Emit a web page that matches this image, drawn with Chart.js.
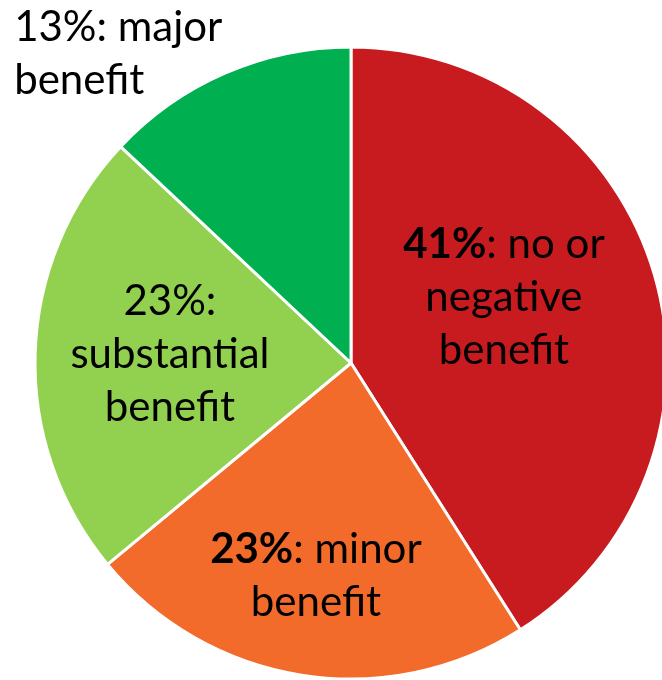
<!DOCTYPE html>
<html>
<head>
<meta charset="utf-8">
<script src="https://cdn.jsdelivr.net/npm/chart.js@4"></script>
<style>
  html, body { margin: 0; padding: 0; overflow: hidden; background: #fff; }
</style>
</head>
<body>
<canvas id="pieChart" width="702" height="726"></canvas>
<script>
const categories = ['no or negative benefit', 'minor benefit', 'substantial benefit', 'major benefit'];
const values = [41, 23, 23, 13];
const colors = ['#C81B1F', '#F26B2B', '#92D050', '#00B050'];
// label text: first line is [bold part, plain part], then plain lines
// (\u200C keeps "f" and "i" apart, as in the original)
const labelLines = [
  [['41%', ': no or'], 'negative', 'bene\u200Cfit'],
  [['23%', ': minor'], 'bene\u200Cfit'],
  [['', '23%:'], 'substantial', 'bene\u200Cfit'],
  [['', '13%: major'], 'bene\u200Cfit']
];
// where each label sits, as a fraction of the radius from the centre
const labelSpots = [
  { fx: 0.484, fy: -0.206, align: 'center' },
  { fx: -0.111, fy: 0.674, align: 'center' },
  { fx: -0.573, fy: -0.028, align: 'center' },
  { fx: -1.066, fy: -0.979, align: 'left' }
];

const FONT = 'Lato, "Open Sans", sans-serif';
const SIZE = 42;
const LINE = 53;

const pieLabels = {
  id: 'pieLabels',
  afterDatasetsDraw(chart) {
    const ctx = chart.ctx;
    const arcs = chart.getDatasetMeta(0).data;
    ctx.save();
    ctx.fillStyle = '#000';
    ctx.textBaseline = 'middle';
    arcs.forEach((arc, i) => {
      const spot = labelSpots[i];
      const x = arc.x + arc.outerRadius * spot.fx;
      const y0 = arc.y + arc.outerRadius * spot.fy;
      const lines = labelLines[i];
      const top = y0 - (lines.length - 1) * LINE / 2;
      lines.forEach((line, j) => {
        const y = top + j * LINE;
        if (Array.isArray(line)) {
          ctx.font = `bold ${SIZE}px ${FONT}`;
          const wb = ctx.measureText(line[0]).width;
          ctx.font = `${SIZE}px ${FONT}`;
          const wr = ctx.measureText(line[1]).width;
          let left = spot.align === 'left' ? x : x - (wb + wr) / 2;
          ctx.textAlign = 'left';
          ctx.font = `bold ${SIZE}px ${FONT}`;
          ctx.fillText(line[0], left, y);
          ctx.font = `${SIZE}px ${FONT}`;
          ctx.fillText(line[1], left + wb, y);
        } else {
          ctx.font = `${SIZE}px ${FONT}`;
          ctx.textAlign = spot.align;
          ctx.fillText(line, x, y);
        }
      });
    });
    ctx.restore();
  }
};

const ctx = document.getElementById('pieChart').getContext('2d');
new Chart(ctx, {
  type: 'pie',
  data: {
    labels: categories,
    datasets: [{
      data: values,
      backgroundColor: colors,
      borderColor: '#ffffff',
      borderWidth: 3
    }]
  },
  options: {
    responsive: false,
    animation: false,
    radius: 316,
    layout: { padding: { left: 35, right: 35, top: 47, bottom: 47 } },
    plugins: {
      legend: { display: false },
      tooltip: { enabled: false }
    }
  },
  plugins: [pieLabels]
});
</script>
</body>
</html>
